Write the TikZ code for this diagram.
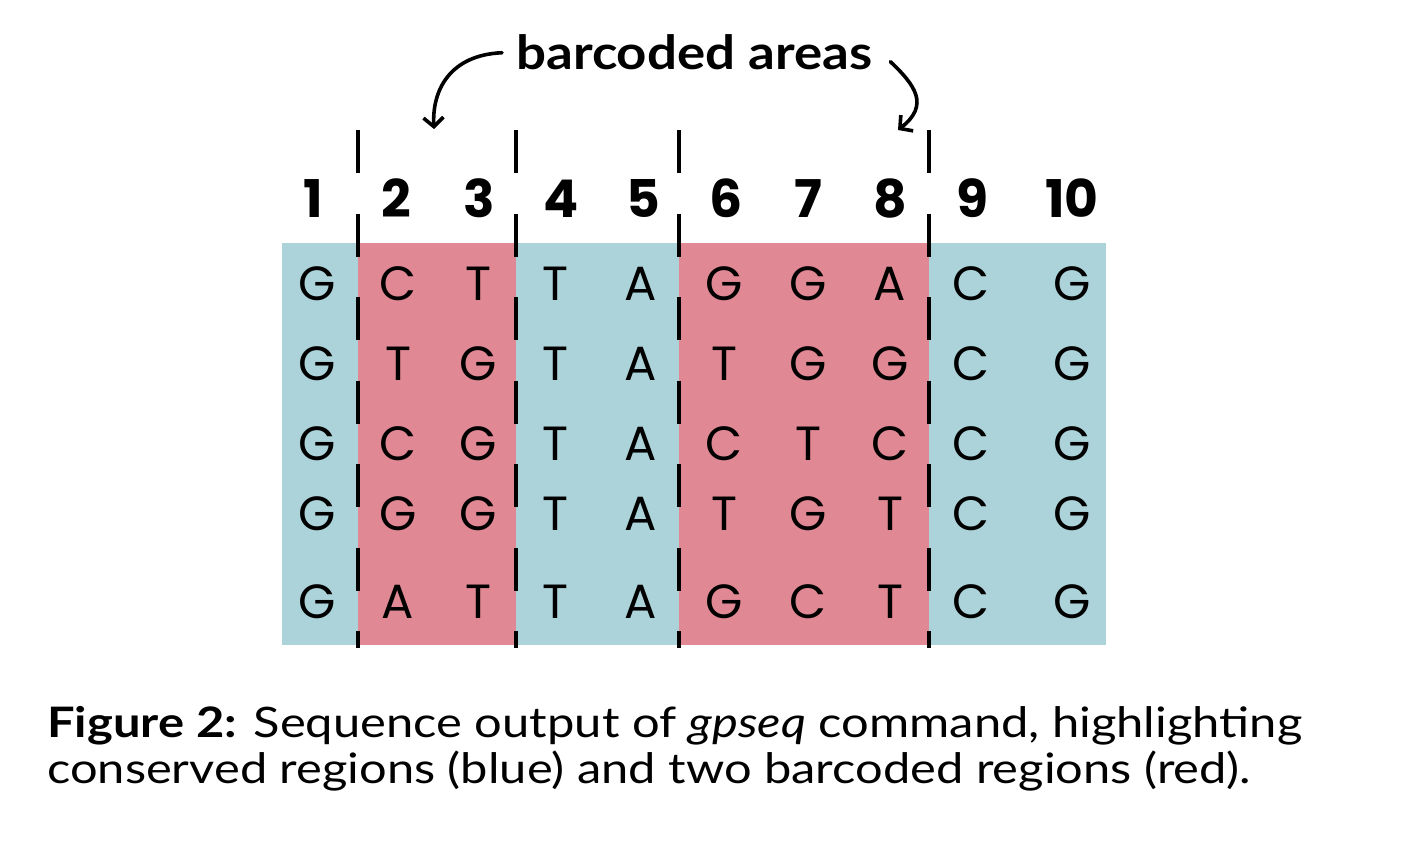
\documentclass[tikz,border=0pt]{standalone}
\usepackage{fontspec}
\usepackage{graphicx}
\usetikzlibrary{arrows.meta}
\setmainfont{Lato}
\newfontfamily\seqfont{Poppins}
\definecolor{consblue}{RGB}{172,211,217}
\definecolor{barred}{RGB}{224,136,147}
\tikzset{
  base letter/.style={anchor=base, inner sep=0pt, font=\seqfont\fontsize{48}{48}\selectfont},
  colnum/.style={anchor=base, inner sep=0pt, font=\seqfont\bfseries\fontsize{52}{52}\selectfont},
  divider/.style={line width=3.8pt, dash pattern=on 43pt off 40.5pt},
  curvearrow/.style={line width=3.6pt, line cap=round, -{Straight Barb[length=9pt,width=20pt,line width=3.6pt]}},
  captionline/.style={anchor=base west, inner sep=0pt}
}
\begin{document}
\begin{tikzpicture}[x=1pt,y=-1pt]
\useasboundingbox (0,0) rectangle (1406,843);
% regions
\fill[consblue] (282,243) rectangle (1106,645);
\fill[barred] (358,243) rectangle (516,645);
\fill[barred] (679,243) rectangle (929,645);
% column numbers
\foreach \n/\x in {1/313,2/396,3/479,4/561,5/643,6/726,7/808,8/890,9/972,10/1072}
  \node[colnum] (n\n) at (\x,217) {\n};
% sequences
\foreach \row/\y/\seq in {1/300/{G,C,T,T,A,G,G,A,C,G},
                          2/380/{G,T,G,T,A,T,G,G,C,G},
                          3/460/{G,C,G,T,A,C,T,C,C,G},
                          4/530/{G,G,G,T,A,T,G,T,C,G},
                          5/618/{G,A,T,T,A,G,C,T,C,G}}{
  \foreach \b [count=\c] in \seq {
    \pgfmathsetmacro{\xx}{{317,398,478,555,641,724,808,890,971,1072}[\c-1]}
    \node[base letter] (r\row c\c) at (\xx,\y) {\b};
  }
}
% dividers
\foreach \x in {358,516,679,929}
  \draw[divider] (\x,130) -- (\x,648);
% label
\node[anchor=base west, inner sep=0pt] (ba) at (516,70)
  {\resizebox{356pt}{\height}{\bfseries\fontsize{47}{47}\selectfont barcoded areas}};
\coordinate (leftTip) at (434,129);
\coordinate (rightTip) at (898,130);
\draw[curvearrow] ([xshift=-14pt]ba.west) .. controls (450,55) and (432,90) .. (leftTip);
\draw[curvearrow] ([xshift=18pt,yshift=-9pt]ba.east) .. controls (915,85) and (930,105) .. (rightTip);
% caption
\node[captionline] (cap1) at (47,737)
  {\resizebox{1255pt}{\height}{\fontsize{42}{42}\selectfont {\bfseries Figure 2:} Sequence output of \textit{gpseq} command, highlighting}};
\node[captionline] (cap2) at (47,783)
  {\resizebox{1204pt}{\height}{\fontsize{42}{42}\selectfont conserved regions (blue) and two barcoded regions (red).}};
\end{tikzpicture}
\end{document}
